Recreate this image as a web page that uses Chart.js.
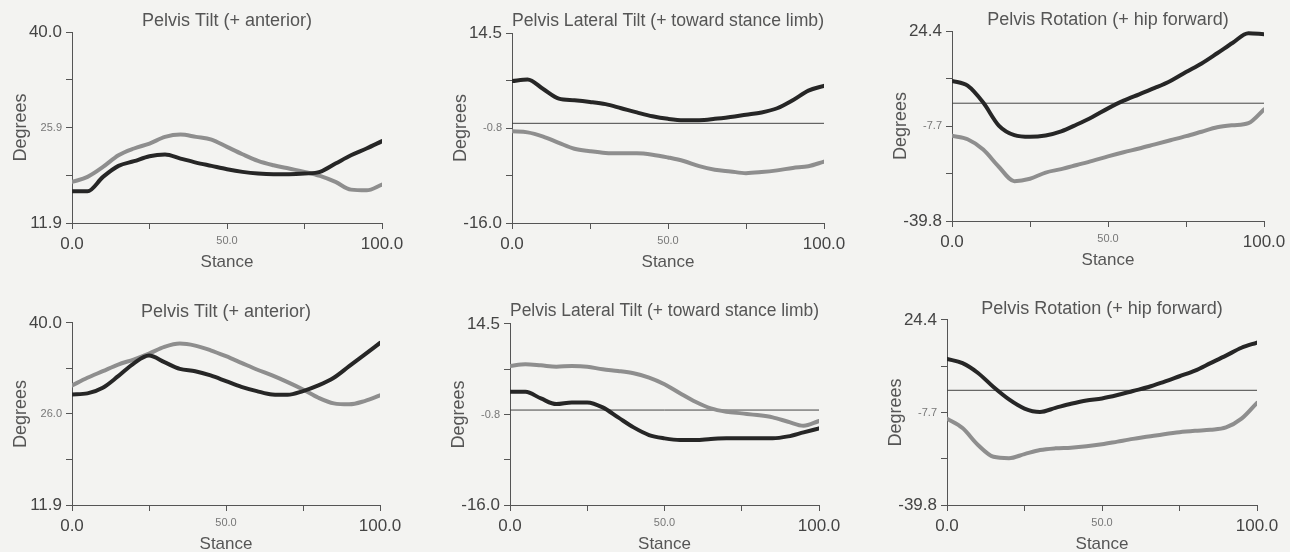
<!DOCTYPE html>
<html>
<head>
<meta charset="utf-8">
<script src="https://cdn.jsdelivr.net/npm/chart.js@4.4.1/dist/chart.umd.min.js"></script>
<style>
  html, body { margin: 0; padding: 0; background: #f3f3f1; overflow: hidden; width: 1290px; height: 552px; position: relative; }
  canvas { position: absolute; }
</style>
</head>
<body>
<script>
// % of stance, sampled every 5%
const stance = [0, 5, 10, 15, 20, 25, 30, 35, 40, 45, 50, 55, 60, 65, 70, 75, 80, 85, 90, 95, 100];

// top row
const tiltTopDark = [16.57, 16.57, 18.68, 20.30, 20.99, 21.73, 21.97, 21.38, 20.79, 20.30, 19.81, 19.42, 19.17, 19.07, 19.07, 19.17, 19.42, 20.64, 21.87, 22.86, 23.94];
const tiltTopGray = [17.94, 18.68, 20.15, 21.87, 22.86, 23.59, 24.57, 24.92, 24.57, 24.18, 23.10, 22.02, 21.04, 20.40, 19.91, 19.42, 18.83, 17.94, 16.81, 16.71, 17.55];
const lateralTopDark = [6.79, 7.04, 5.50, 3.96, 3.70, 3.44, 3.08, 2.42, 1.75, 1.13, 0.72, 0.51, 0.51, 0.72, 1.03, 1.39, 1.75, 2.42, 3.70, 5.24, 6.02];
const lateralTopGray = [-1.29, -1.45, -2.13, -3.13, -4.08, -4.48, -4.76, -4.81, -4.81, -5.03, -5.48, -6.04, -6.88, -7.44, -7.72, -8.00, -7.83, -7.55, -7.16, -6.88, -6.15];
const rotationTopDark = [7.53, 5.91, 0.22, -7.54, -10.79, -11.37, -10.90, -9.51, -7.19, -4.64, -1.74, 0.86, 3.01, 5.16, 7.53, 10.54, 13.44, 16.88, 20.43, 23.66, 23.33];
const rotationTopGray = [-11.02, -12.18, -15.66, -21.46, -26.33, -25.52, -23.43, -22.27, -20.88, -19.49, -17.98, -16.59, -15.31, -13.92, -12.53, -11.14, -9.63, -8.12, -7.42, -6.73, -2.09];

// bottom row
const tiltBotDark = [28.97, 29.13, 30.00, 31.79, 33.74, 34.97, 33.95, 32.92, 32.56, 31.90, 31.03, 30.15, 29.49, 28.97, 28.92, 29.49, 30.36, 31.54, 33.33, 35.13, 36.92];
const tiltBotGray = [30.36, 31.54, 32.56, 33.59, 34.36, 35.28, 36.31, 36.82, 36.51, 35.79, 34.87, 33.85, 32.82, 31.90, 30.87, 29.74, 28.46, 27.59, 27.44, 27.95, 28.82];
const lateralBotDark = [3.07, 3.07, 1.95, 1.00, 1.28, 1.28, 0.45, -1.24, -2.92, -4.21, -4.77, -5.05, -5.05, -4.88, -4.77, -4.77, -4.77, -4.77, -4.44, -3.76, -3.09];
const lateralBotGray = [7.42, 7.70, 7.53, 7.31, 7.42, 7.31, 6.86, 6.58, 6.19, 5.47, 4.35, 2.84, 1.39, 0.28, -0.28, -0.56, -0.84, -1.24, -1.97, -2.64, -1.85];
const rotationBotDark = [10.90, 9.42, 6.02, 1.14, -3.16, -6.32, -7.49, -6.09, -4.68, -3.51, -2.81, -1.64, -0.23, 1.14, 2.95, 4.88, 6.81, 9.42, 12.03, 14.76, 16.57];
const rotationBotGray = [-9.84, -13.11, -18.97, -23.07, -23.54, -22.13, -20.73, -20.14, -19.91, -19.44, -18.74, -17.80, -16.86, -16.04, -15.22, -14.52, -14.05, -13.70, -12.88, -9.84, -4.33];

// tick labels (min, mid, max)
const xTickLabels = ['0.0', '50.0', '100.0'];
const tiltTopTicks = ['11.9', '25.9', '40.0'];
const tiltBotTicks = ['11.9', '26.0', '40.0'];
const lateralTicks = ['-16.0', '-0.8', '14.5'];
const rotationTicks = ['-39.8', '-7.7', '24.4'];

const titleTilt = 'Pelvis Tilt (+ anterior)';
const titleLateral = 'Pelvis Lateral Tilt (+ toward stance limb)';
const titleRotation = 'Pelvis Rotation (+ hip forward)';

Chart.defaults.font.family = "'Liberation Sans', Arial, sans-serif";

const DARK = '#262626';
const GRAY = '#8e8e8e';
const AXIS = '#555';
const yw = 62, xh = 50;

// plot boxes in page pixels
const panels = [
  { title: titleTilt, ticks: tiltTopTicks, dark: tiltTopDark, gray: tiltTopGray, box: { L: 72, T: 32, R: 382, B: 223, ty: 21 } },
  { title: titleLateral, ticks: lateralTicks, dark: lateralTopDark, gray: lateralTopGray, box: { L: 512, T: 33, R: 824, B: 223, ty: 21 } },
  { title: titleRotation, ticks: rotationTicks, dark: rotationTopDark, gray: rotationTopGray, box: { L: 952, T: 31, R: 1264, B: 221, ty: 21 } },
  { title: titleTilt, ticks: tiltBotTicks, dark: tiltBotDark, gray: tiltBotGray, box: { L: 72, T: 323, R: 380, B: 505, ty: 313 } },
  { title: titleLateral, ticks: lateralTicks, dark: lateralBotDark, gray: lateralBotGray, box: { L: 510, T: 324, R: 819, B: 505, ty: 311 } },
  { title: titleRotation, ticks: rotationTicks, dark: rotationBotDark, gray: rotationBotGray, box: { L: 947, T: 320, R: 1257, B: 505, ty: 310 } },
];

const pts = arr => stance.map((s, i) => ({ x: s, y: arr[i] }));

panels.forEach(p => {
  const b = p.box;
  const yMin = parseFloat(p.ticks[0]);
  const yMax = parseFloat(p.ticks[2]);
  const half = 18 * 1.2 / 2;
  const ty = Math.min(b.ty, b.T - half);
  const left = Math.floor(b.L - yw - 8);
  const top = Math.floor(ty - half - 2);
  const canvas = document.createElement('canvas');
  canvas.width = b.R + 30 - left;
  canvas.height = b.B + xh + 4 - top;
  canvas.style.left = left + 'px';
  canvas.style.top = top + 'px';
  document.body.appendChild(canvas);

  const datasets = [
    { data: pts(p.dark), borderColor: DARK, borderWidth: 4, order: 1 },
    { data: pts(p.gray), borderColor: GRAY, borderWidth: 4, order: 2 },
  ];
  if (yMin < 0 && yMax > 0) {
    datasets.push({ data: [{ x: 0, y: 0 }, { x: 100, y: 0 }], borderColor: '#444', borderWidth: 1, tension: 0, order: 3 });
  }

  new Chart(canvas, {
    type: 'line',
    data: { datasets },
    options: {
      responsive: false,
      animation: false,
      layout: { padding: { left: b.L - yw - left, top: ty - half - top, right: 30, bottom: 4 } },
      elements: {
        point: { radius: 0 },
        line: { tension: 0.4, cubicInterpolationMode: 'monotone', borderCapStyle: 'round', fill: false },
      },
      plugins: {
        legend: { display: false },
        tooltip: { enabled: false },
        title: {
          display: true,
          text: p.title,
          fullSize: false,
          color: '#555',
          font: { size: 18, weight: 'normal' },
          padding: { top: 0, bottom: b.T - ty - half },
        },
      },
      scales: {
        x: {
          type: 'linear',
          min: 0,
          max: 100,
          afterBuildTicks: s => { s.ticks = [0, 25, 50, 75, 100].map(v => ({ value: v })); },
          afterFit: s => { s.height = xh; s.paddingLeft = 0; s.paddingRight = 0; },
          grid: { drawOnChartArea: false, drawTicks: true, tickLength: 6, color: AXIS },
          border: { display: true, color: AXIS, width: 1 },
          ticks: {
            autoSkip: false,
            maxRotation: 0,
            padding: 5,
            callback: v => (v === 0 ? xTickLabels[0] : v === 50 ? xTickLabels[1] : v === 100 ? xTickLabels[2] : ''),
            font: c => (c.tick && c.tick.value === 50 ? { size: 11 } : { size: 17 }),
            color: c => (c.tick && c.tick.value === 50 ? '#777' : '#444'),
          },
          title: { display: true, text: 'Stance', color: '#555', font: { size: 17 }, padding: { top: 0, bottom: 0 } },
        },
        y: {
          min: yMin,
          max: yMax,
          afterBuildTicks: s => {
            const step = (yMax - yMin) / 4;
            s.ticks = [0, 1, 2, 3, 4].map(i => ({ value: yMin + step * i }));
          },
          afterFit: s => { s.width = yw; s.paddingTop = 0; s.paddingBottom = 0; },
          grid: { drawOnChartArea: false, drawTicks: true, tickLength: 6, color: AXIS },
          border: { display: true, color: AXIS, width: 1 },
          ticks: {
            autoSkip: false,
            padding: 4,
            callback: (v, i) => (i % 2 === 0 ? p.ticks[i / 2] : ''),
            font: c => (c.index === 2 ? { size: 11 } : { size: 17 }),
            color: c => (c.index === 2 ? '#777' : '#444'),
          },
          title: { display: true, text: 'Degrees', color: '#555', font: { size: 18 }, padding: { top: 0, bottom: 0 } },
        },
      },
    },
  });
});
</script>
</body>
</html>
